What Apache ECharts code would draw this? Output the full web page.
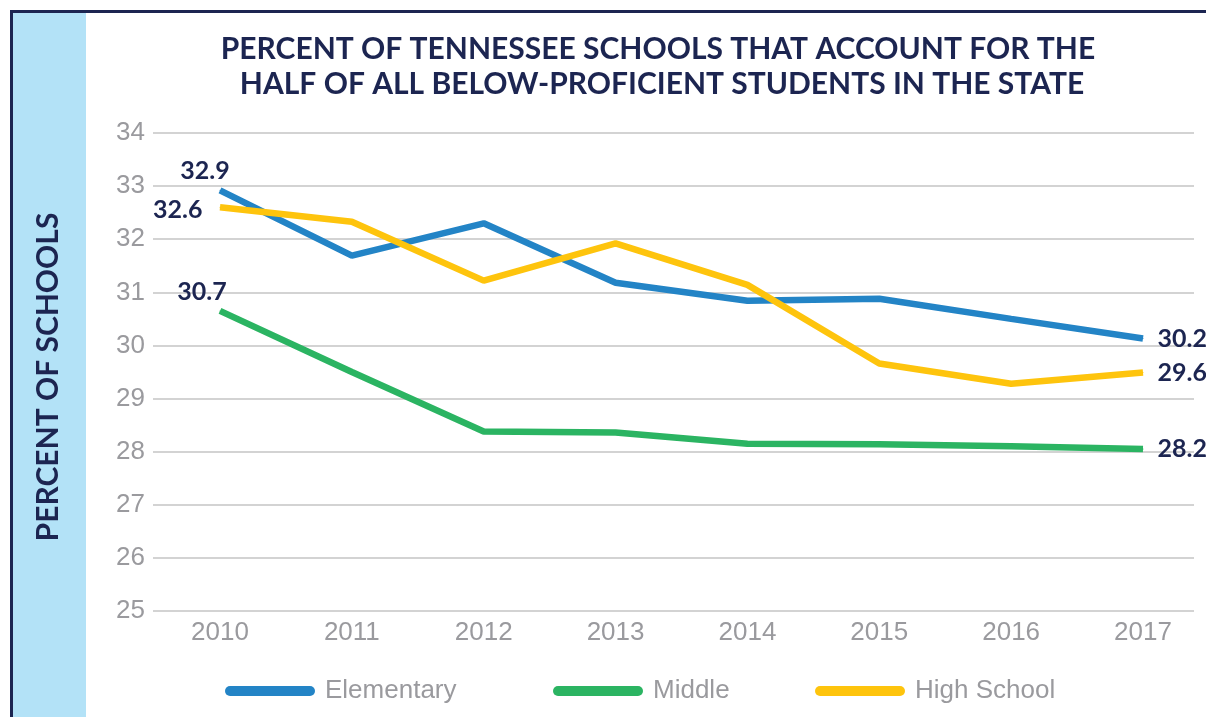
<!DOCTYPE html>
<html>
<head>
<meta charset="utf-8">
<script src="https://cdn.jsdelivr.net/npm/echarts@6/dist/echarts.min.js"></script>
<style>
  html, body { margin: 0; padding: 0; background: #fff; }
  #chart { width: 1206px; height: 717px; }
</style>
</head>
<body>
<div id="chart"></div>
<script>
// data
var years = ['2010', '2011', '2012', '2013', '2014', '2015', '2016', '2017'];
var seriesNames = ['Elementary', 'Middle', 'High School'];
var elementary = [32.92, 31.69, 32.3, 31.18, 30.84, 30.88, 30.5, 30.13];
var middle = [30.65, 29.5, 28.38, 28.36, 28.15, 28.14, 28.1, 28.05];
var highSchool = [32.6, 32.33, 31.22, 31.92, 31.14, 29.66, 29.28, 29.49];
// published labels at both ends
var startLabels = [32.9, 30.7, 32.6];
var endLabels = [30.2, 28.2, 29.6];
var yTicks = { min: 25, max: 34, interval: 1 };

var navy = '#1c2551';
var grey = '#9a9a9e';
var colors = ['#2384c6', '#2bb462', '#fec40d'];
var startLabelPos = [
    { position: 'top', distance: 6, offset: [-15, 0] },
    { position: 'top', distance: 6, offset: [-18, 0] },
    { position: 'left', distance: 17, offset: [0, 3] }
];
var labelFont = { fontFamily: 'Lato', fontWeight: 'bold', fontSize: 25, color: navy };
var pill = 'path://M5,0 L85,0 A5,5 0 0 1 85,10 L5,10 A5,5 0 0 1 5,0 Z';
var legendLefts = [220, 548, 810];

function buildData(values, k) {
    return values.map(function (v, i) {
        var item = { value: v };
        if (i === 0) {
            item.label = Object.assign({ show: true, formatter: startLabels[k].toFixed(1) }, labelFont, startLabelPos[k]);
        } else if (i === values.length - 1) {
            item.label = Object.assign({ show: true, formatter: endLabels[k].toFixed(1), position: 'right', distance: 14 }, labelFont);
        }
        return item;
    });
}

var chart = echarts.init(document.getElementById('chart'), null, { renderer: 'canvas' });

var option = {
    animation: false,
    graphic: [
        { type: 'rect', shape: { x: 13, y: 13, width: 73, height: 704 }, style: { fill: '#b3e2f7' }, z: -1 },
        { type: 'rect', shape: { x: 10, y: 10, width: 1196, height: 3 }, style: { fill: navy } },
        { type: 'rect', shape: { x: 10, y: 10, width: 3, height: 707 }, style: { fill: navy } },
        {
            type: 'text', x: 658, y: 49,
            style: {
                text: 'PERCENT OF TENNESSEE SCHOOLS THAT ACCOUNT FOR THE',
                font: 'bold 30px Lato', fill: navy, textAlign: 'center', textVerticalAlign: 'middle'
            }
        },
        {
            type: 'text', x: 662, y: 84,
            style: {
                text: 'HALF OF ALL BELOW-PROFICIENT STUDENTS IN THE STATE',
                font: 'bold 30px Lato', fill: navy, textAlign: 'center', textVerticalAlign: 'middle'
            }
        },
        {
            type: 'text', x: 48, y: 377, rotation: Math.PI / 2,
            style: {
                text: 'PERCENT OF SCHOOLS',
                font: 'bold 30px Lato', fill: navy, textAlign: 'center', textVerticalAlign: 'middle'
            }
        }
    ],
    legend: seriesNames.map(function (n, i) {
        return {
            data: [n], left: legendLefts[i], top: 672,
            icon: pill, itemWidth: 90, itemHeight: 10,
            textStyle: { fontFamily: 'Liberation Sans', fontSize: 26, color: grey, padding: [0, 0, 0, 5], lineHeight: 28 }
        };
    }),
    grid: [
        { left: 220, right: 63, top: 133, bottom: 106 },
        { left: 153, right: 12, top: 133, bottom: 106 }
    ],
    xAxis: [
        {
            type: 'category', gridIndex: 0, data: years, boundaryGap: false,
            axisLine: { show: false }, axisTick: { show: false },
            axisLabel: { fontFamily: 'Liberation Sans', fontSize: 26, color: grey, margin: 9 }
        },
        { type: 'value', gridIndex: 1, show: false }
    ],
    yAxis: [
        { type: 'value', gridIndex: 0, min: yTicks.min, max: yTicks.max, interval: yTicks.interval, show: false, splitLine: { show: false } },
        {
            type: 'value', gridIndex: 1, min: yTicks.min, max: yTicks.max, interval: yTicks.interval,
            axisLine: { show: false }, axisTick: { show: false },
            axisLabel: { fontFamily: 'Liberation Sans', fontSize: 26, color: grey, margin: 8 },
            splitLine: { lineStyle: { color: '#d3d3d3', width: 2 } }
        }
    ],
    series: [elementary, middle, highSchool].map(function (vals, k) {
        return {
            name: seriesNames[k], type: 'line', xAxisIndex: 0, yAxisIndex: 0,
            data: buildData(vals, k),
            symbol: 'circle', symbolSize: 1, showSymbol: true,
            color: colors[k],
            itemStyle: { color: colors[k] },
            lineStyle: { width: 6.5, color: colors[k] }
        };
    })
};

chart.setOption(option);
</script>
</body>
</html>
